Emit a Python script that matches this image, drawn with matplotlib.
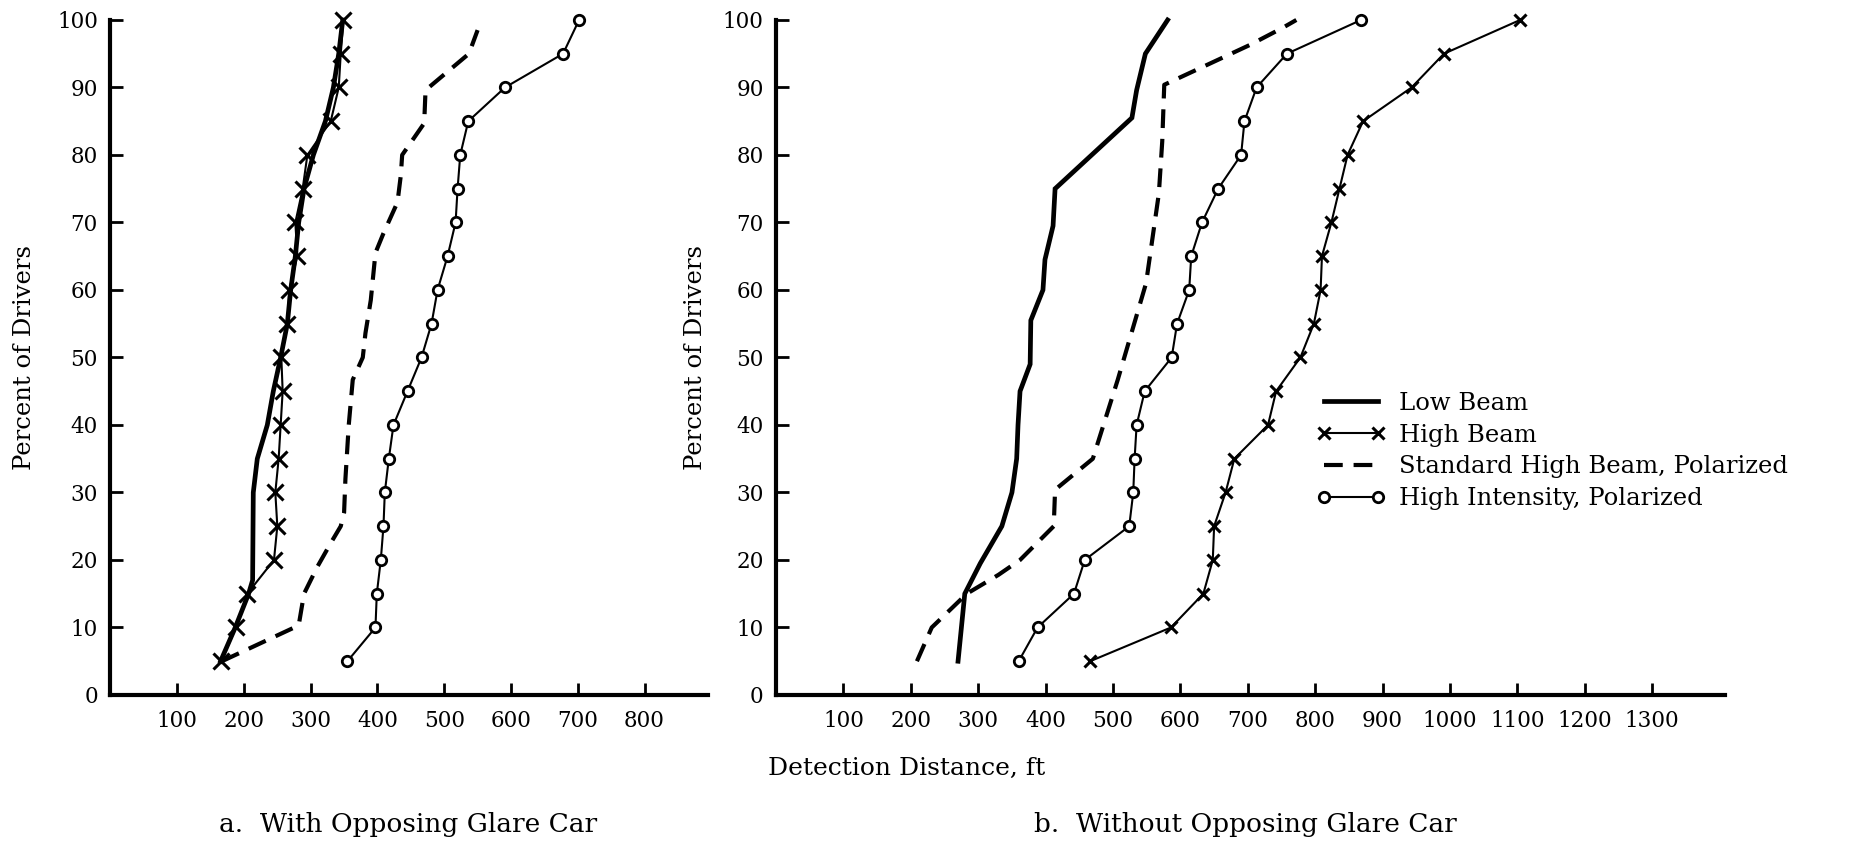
import numpy as np
import matplotlib
matplotlib.use('Agg')
from matplotlib import pyplot as plt

plt.rcParams['font.family'] = 'DejaVu Serif'

# percent of drivers for the marked series
pct = [5, 10, 15, 20, 25, 30, 35, 40, 45, 50, 55, 60, 65, 70, 75, 80, 85, 90, 95, 100]

# a. with opposing glare car
glare_low_x = [165, 187, 207, 213, 214, 220, 235, 244, 255, 265, 270, 277, 282, 290, 304, 322, 334, 342, 348]
glare_low_y = [5, 10, 15, 17, 30, 35, 40, 45, 50, 55, 60, 65, 70, 75, 80, 85, 90, 95, 100]
glare_high_x = [166, 188, 205, 245, 250, 247, 252, 255, 258, 256, 265, 268, 280, 277, 288, 295, 330, 342, 345, 349]
glare_pol_x = [167, 282, 290, 310, 330, 345, 350, 352, 357, 363, 378, 382, 390, 397, 409, 430, 435, 437, 470, 472, 537, 550]
glare_pol_y = [5, 10.3, 15, 19, 22.5, 25, 27, 32, 40, 46.7, 50, 53.6, 58.5, 65.5, 68.4, 73, 77, 80, 84.7, 89.6, 95, 98.5]
glare_hi_x = [355, 397, 399, 405, 409, 411, 417, 424, 445, 466, 481, 490, 505, 517, 520, 524, 536, 591, 678, 702]

# b. without opposing glare car
clear_low_x = [270, 280, 303, 335, 350, 357, 359, 362, 377, 378, 396, 399, 411, 414, 528, 535, 548, 581]
clear_low_y = [5, 15, 19.5, 25, 30, 35, 40, 45, 49, 55.5, 60, 64.5, 69.5, 75, 85.5, 89.6, 95, 100]
clear_high_x = [466, 586, 634, 648, 650, 667, 680, 730, 742, 778, 798, 808, 810, 824, 836, 848, 871, 943, 991, 1104]
clear_pol_x = [209, 231, 283, 330, 362, 412, 414, 470, 507, 549, 568, 573, 576, 645, 703, 751, 772]
clear_pol_y = [5, 10, 15, 17.8, 20, 25, 30.4, 35, 46.7, 61, 74.3, 82, 90.4, 93.6, 96.3, 98.8, 100]
clear_hi_x = [360, 388, 442, 458, 524, 530, 532, 535, 547, 587, 595, 613, 616, 632, 656, 690, 695, 713, 758, 868]

labels = ['Low Beam', 'High Beam', 'Standard High Beam, Polarized', 'High Intensity, Polarized']

fig = plt.figure(figsize=(18.62, 8.43), dpi=100)
ax1 = fig.add_axes([0.0593, 0.1756, 0.3209, 0.8007])
ax2 = fig.add_axes([0.4168, 0.1756, 0.5096, 0.8007])


def draw(ax, low_x, low_y, high_x, pol_x, pol_y, hi_x, xmax, xticks, msize):
    l1, = ax.plot(low_x, low_y, color='k', lw=3.4, solid_joinstyle='miter', clip_on=False)
    l2, = ax.plot(high_x, pct, color='k', lw=1.5, marker='x', ms=msize, mew=2.2, clip_on=False)
    l3, = ax.plot(pol_x, pol_y, color='k', lw=3.0, linestyle=(0, (4.5, 2.6)), clip_on=False)
    l4, = ax.plot(hi_x, pct, color='k', lw=1.5, marker='o', ms=7.5, mew=2.0,
                  mfc='white', clip_on=False)
    ax.set_xlim(0, xmax)
    ax.set_ylim(0, 100)
    ax.set_xticks(xticks)
    ax.set_yticks(range(0, 101, 10))
    for s in ['top', 'right']:
        ax.spines[s].set_visible(False)
    for s in ['left', 'bottom']:
        ax.spines[s].set_linewidth(3.0)
    ax.tick_params(direction='in', length=9, width=2.0, labelsize=15.5, pad=9)
    ax.tick_params(axis='x', pad=11)
    ax.set_ylabel('Percent of Drivers', fontsize=17.5)
    return [l1, l2, l3, l4]


draw(ax1, glare_low_x, glare_low_y, glare_high_x, glare_pol_x, glare_pol_y, glare_hi_x,
     895, range(100, 801, 100), 11)
handles = draw(ax2, clear_low_x, clear_low_y, clear_high_x, clear_pol_x, clear_pol_y, clear_hi_x,
               1408, range(100, 1301, 100), 9)

ax1.yaxis.set_label_coords(-0.124, 0.50)
ax2.yaxis.set_label_coords(-0.073, 0.50)

fig.legend(handles, labels, loc='upper left', bbox_to_anchor=(0.707, 0.535), frameon=False,
           fontsize=17.5, numpoints=2, handlelength=2.85, handletextpad=0.55, labelspacing=0.36,
           borderpad=0, borderaxespad=0)

fig.text(0.487, 0.089, 'Detection Distance, ft', fontsize=18, ha='center', va='center')
fig.text(0.219, 0.022, 'a.  With Opposing Glare Car', fontsize=19, ha='center', va='center')
fig.text(0.669, 0.022, 'b.  Without Opposing Glare Car', fontsize=19, ha='center', va='center')

plt.savefig('out.png', dpi=100)
